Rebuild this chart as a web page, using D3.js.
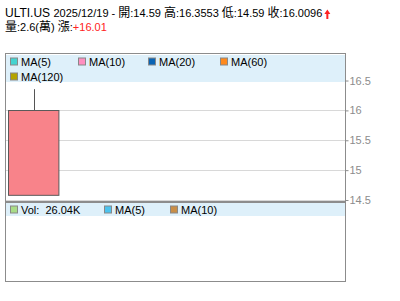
<!DOCTYPE html>
<html>
<head>
<meta charset="utf-8">
<script src="https://cdn.jsdelivr.net/npm/d3@7"></script>
<style>
  body { margin: 0; background: #fff; }
  text { font-family: "Liberation Sans", Arial, "Noto Sans CJK TC", sans-serif; }
</style>
</head>
<body>
<div class="container"></div>
<script>
// data
const symbol = "ULTI.US";
const dates = ["2025/12/19"];
const opens = [14.59];
const highs = [16.3553];
const lows = [14.59];
const closes = [16.0096];
const volumes = [26040];
const change = 16.01;
const yTicks = [14.5, 15, 15.5, 16, 16.5];
const maLabels = ["MA(5)", "MA(10)", "MA(20)", "MA(60)", "MA(120)"];
const maColors = ["#44d3d0", "#ff8fc0", "#0a64b4", "#ff8a1e", "#b4a400"];
const volLabels = ["Vol:  26.04K", "MA(5)", "MA(10)"];
const volColors = ["#a8dc88", "#4cc3ee", "#c88e48"];

const width = 400, height = 301;
const left = 6, right = 345;
const mainTop = 54, mainBottom = 202;
const volBottom = 282;

let svg = d3.select(".container").append("svg")
  .attr("width", width).attr("height", height);

// split text so CJK chars get a slightly bigger size
function addRuns(sel, str, color) {
  str.split(/([\u3400-\u9fff]+)/).filter(s => s.length).forEach(s => {
    let t = sel.append("tspan").text(s);
    if (/[\u3400-\u9fff]/.test(s)) t.attr("font-size", 12);
    if (color) t.attr("fill", color);
  });
}

// header
let t1 = svg.append("text").attr("x", 5).attr("y", 17).attr("font-size", 11).attr("fill", "#000")
  .attr("xml:space", "preserve");
t1.append("tspan").attr("font-size", 12).text(symbol + " ");
addRuns(t1, `${dates[0]} - 開:${opens[0]} 高:${highs[0]} 低:${lows[0]} 收:${closes[0]}`);

let bb = t1.node().getBBox();
let ax = bb.x + bb.width + 2;
svg.append("path")
  .attr("d", `M${ax},14 L${ax + 3},9.5 L${ax + 6},14 L${ax + 4},14 L${ax + 4},19 L${ax + 2},19 L${ax + 2},14 Z`)
  .attr("fill", "#f22");

let t2 = svg.append("text").attr("x", 5).attr("y", 31).attr("font-size", 11).attr("fill", "#000")
  .attr("xml:space", "preserve");
addRuns(t2, `量:${(volumes[0] / 10000).toFixed(1)}(萬) 漲:`);
t2.append("tspan").attr("fill", "#f22").text("+" + change.toFixed(2));

// scales
let xScale = d3.scaleLinear([-0.5, 5.66], [left, right]);
let yScale = d3.scaleLinear([14.467, 16.944], [mainBottom, mainTop]);
const slot = xScale(1) - xScale(0);

// grid
svg.append("g").selectAll("line").data(yTicks).enter().append("line")
  .attr("x1", left).attr("x2", right)
  .attr("y1", d => Math.round(yScale(d)) + 0.5).attr("y2", d => Math.round(yScale(d)) + 0.5)
  .attr("stroke", "#d8d8d8");

// legend bands
svg.append("rect").attr("x", left).attr("y", mainTop + 1).attr("width", right - left).attr("height", 27)
  .attr("fill", "#def0fa");
svg.append("rect").attr("x", left).attr("y", mainBottom + 1).attr("width", right - left).attr("height", 13)
  .attr("fill", "#def0fa");

// candles
let gC = svg.append("g");
gC.selectAll("line").data(dates).enter().append("line")
  .attr("x1", (d, i) => Math.round(xScale(i)) + 0.5).attr("x2", (d, i) => Math.round(xScale(i)) + 0.5)
  .attr("y1", (d, i) => yScale(highs[i])).attr("y2", (d, i) => yScale(lows[i]))
  .attr("stroke", "#555");
gC.selectAll("rect").data(dates).enter().append("rect")
  .attr("x", (d, i) => Math.round(xScale(i) - slot * 0.458) + 0.5)
  .attr("width", slot * 0.916)
  .attr("y", (d, i) => Math.round(yScale(Math.max(opens[i], closes[i]))) + 0.5)
  .attr("height", (d, i) => Math.abs(yScale(opens[i]) - yScale(closes[i])))
  .attr("fill", (d, i) => closes[i] >= opens[i] ? "#f8838a" : "#5c5")
  .attr("stroke", "#5a5a5a");

// panels
svg.append("rect").attr("x", left - 0.5).attr("y", mainTop - 0.5)
  .attr("width", right - left + 1).attr("height", mainBottom - mainTop)
  .attr("fill", "none").attr("stroke", "#8c8c8c");
svg.append("rect").attr("x", left - 0.5).attr("y", mainBottom + 0.5)
  .attr("width", right - left + 1).attr("height", volBottom - mainBottom - 1)
  .attr("fill", "none").attr("stroke", "#8c8c8c");

// right axis
let yAxis = d3.axisRight(yScale).tickValues(yTicks).tickSize(3).tickPadding(1)
  .tickFormat(d3.format("~g"));
let gA = svg.append("g").attr("transform", `translate(${right + 0.5},0)`);
yAxis(gA);
gA.select(".domain").remove();
gA.selectAll("line").attr("stroke", "#8c8c8c");
gA.selectAll("text").attr("fill", "#8c8c8c").attr("font-size", 11)
  .attr("font-family", "Liberation Sans, Arial, sans-serif");

// legends
function legend(labels, colors, positions) {
  let g = svg.append("g");
  let items = g.selectAll("g").data(labels).enter().append("g")
    .attr("transform", (d, i) => `translate(${positions[i][0]},${positions[i][1]})`);
  items.append("rect").attr("x", 0.5).attr("y", 0.5).attr("width", 7).attr("height", 7)
    .attr("fill", (d, i) => colors[i]).attr("stroke", "#888");
  items.append("text").attr("x", 11).attr("y", 8.5).attr("font-size", 11).attr("fill", "#000")
    .attr("xml:space", "preserve").text(d => d);
}
legend(maLabels, maColors, [[10, 57.5], [78, 57.5], [148, 57.5], [220, 57.5], [10, 72.5]]);
legend(volLabels, volColors, [[10, 205.5], [104, 205.5], [170, 205.5]]);
</script>
</body>
</html>
